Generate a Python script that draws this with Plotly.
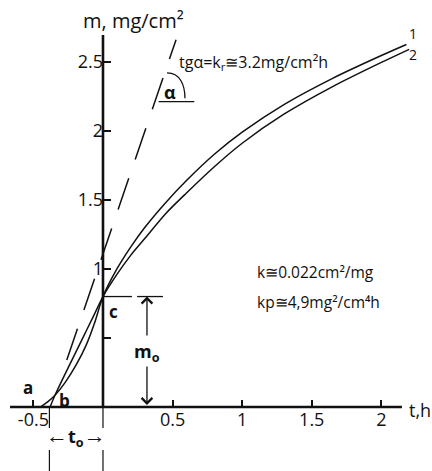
import plotly.graph_objects as go

# ---- data ----
# curve 1 (upper), including the convex start from point a
curve1_t = [-0.45, -0.40, -0.345, -0.27, -0.19, -0.12, -0.06, 0.0,
            0.1, 0.2, 0.3, 0.45, 0.6, 0.8, 1.0, 1.3, 1.65, 2.0, 2.18]
curve1_m = [0.0, 0.035, 0.085, 0.18, 0.31, 0.45, 0.61, 0.80,
            1.00, 1.16, 1.30, 1.48, 1.64, 1.83, 1.99, 2.19, 2.38, 2.545, 2.625]
# curve 2 (lower), starting near-straight from point b side
curve2_t = [-0.38, -0.345, -0.25, -0.15, -0.07, 0.0,
            0.1, 0.2, 0.3, 0.45, 0.6, 0.8, 1.0, 1.3, 1.65, 2.0, 2.2]
curve2_m = [0.0, 0.085, 0.285, 0.49, 0.655, 0.80,
            0.96, 1.10, 1.22, 1.40, 1.55, 1.74, 1.91, 2.12, 2.32, 2.495, 2.59]
# dashed tangent (tg alpha = kr)
tangent_t = [-0.26, 0.525]
tangent_m = [0.34, 2.66]

x_tickvals = [-0.5, 0.5, 1, 1.5, 2]
x_ticktext = ["-0.5", "0.5", "1", "1.5", "2"]
y_tickvals = [0.5, 1, 1.5, 2, 2.5]
y_ticktext = ["", "1", "1.5", "2", "2.5"]

m0 = 0.80      # intercept c
t0 = -0.385    # start of t0 interval

FONT = "Open Sans"
BLACK = "#111111"

fig = go.Figure()

for t, m in [(curve1_t, curve1_m), (curve2_t, curve2_m)]:
    fig.add_trace(go.Scatter(x=t, y=m, mode="lines",
                             line=dict(color=BLACK, width=1.5, shape="spline", smoothing=0.8),
                             hoverinfo="skip"))
fig.add_trace(go.Scatter(x=tangent_t, y=tangent_m, mode="lines",
                         line=dict(color=BLACK, width=1.5, dash="33px,20px"),
                         hoverinfo="skip"))

shapes = []
def seg(x0, y0, x1, y1, w=1.3):
    shapes.append(dict(type="line", xref="x", yref="y", x0=x0, y0=y0, x1=x1, y1=y1,
                       line=dict(color=BLACK, width=w)))

# axes lines
seg(-0.668, 0, 2.148, 0, 2.6)
seg(0, 0, 0, 2.694, 2.6)
# c horizontal lines
seg(0, m0, 0.208, m0)
seg(0.245, m0, 0.431, m0)
# t0 bars
for xx in [t0, 0]:
    seg(xx, 0, xx, -0.152, 1.2)
    seg(xx, -0.311, xx, -0.47, 1.2)
# alpha angle
seg(0.40, 2.211, 0.656, 2.211, 1.3)
shapes.append(dict(type="path", xref="x", yref="y",
                   path="M 0.46,2.419 C 0.555,2.419 0.589,2.33 0.589,2.235",
                   line=dict(color=BLACK, width=1.3)))

ann = []
def txt(x, y, s, size=15, xanchor="center", yanchor="middle"):
    ann.append(dict(x=x, y=y, xref="x", yref="y", text=s, showarrow=False,
                    xanchor=xanchor, yanchor=yanchor,
                    font=dict(family=FONT, size=size, color=BLACK)))

txt(0.219, 2.802, "m, mg/cm²", 20)
txt(2.184, -0.02, "t,h", 18, xanchor="left")
txt(2.227, 2.708, "1", 14)
txt(2.227, 2.556, "2", 14)
txt(0.532, 2.491, "tgα=k<sub>r</sub>≅3.2mg/cm²h", 16, xanchor="left")
txt(1.092, 0.978, "k≅0.022cm²/mg", 15.5, xanchor="left")
txt(1.092, 0.760, "kp≅4,9mg²/cm⁴h", 15.5, xanchor="left")
txt(-0.539, 0.138, "<b>a</b>", 17)
txt(-0.273, 0.05, "<b>b</b>", 17)
txt(0.072, 0.695, "<b>c</b>", 17)
txt(0.481, 2.281, "<b>α</b>", 18)
txt(0.316, 0.398, "<b>m</b><sub><b>o</b></sub>", 18)
txt(-0.194, -0.203,
    "<span style='font-size:22px'>←</span><b>t</b><sub><b>o</b></sub>"
    "<span style='font-size:22px'>→</span>", 18)

# m0 arrows
for tail, head in [(0.507, m0), (0.304, 0.015)]:
    ann.append(dict(x=0.316, y=head, ax=0.316, ay=tail, xref="x", yref="y",
                    axref="x", ayref="y", showarrow=True, text="",
                    arrowhead=4, arrowsize=1.6, arrowwidth=1.3, arrowcolor=BLACK))

fig.update_layout(
    width=432, height=471, margin=dict(l=0, r=0, t=0, b=0),
    plot_bgcolor="white", paper_bgcolor="white", showlegend=False,
    shapes=shapes, annotations=ann,
    font=dict(family=FONT, color=BLACK),
    xaxis=dict(range=[-0.740, 2.364], domain=[0, 1], anchor="free", position=64/471,
               showgrid=False, zeroline=False, showline=False,
               tickmode="array", tickvals=x_tickvals, ticktext=x_ticktext,
               ticks="inside", ticklen=7, tickwidth=2, tickcolor=BLACK,
               tickfont=dict(family=FONT, size=18, color=BLACK)),
    yaxis=dict(range=[-0.463, 2.947], domain=[0, 1], anchor="free", position=103/432,
               showgrid=False, zeroline=False, showline=False,
               tickmode="array", tickvals=y_tickvals, ticktext=y_ticktext,
               ticks="inside", ticklen=7, tickwidth=2, tickcolor=BLACK,
               tickfont=dict(family=FONT, size=18, color=BLACK)),
)

fig.write_html("out.html", config={"displayModeBar": False},
               post_script="document.body.style.margin='0px';")
